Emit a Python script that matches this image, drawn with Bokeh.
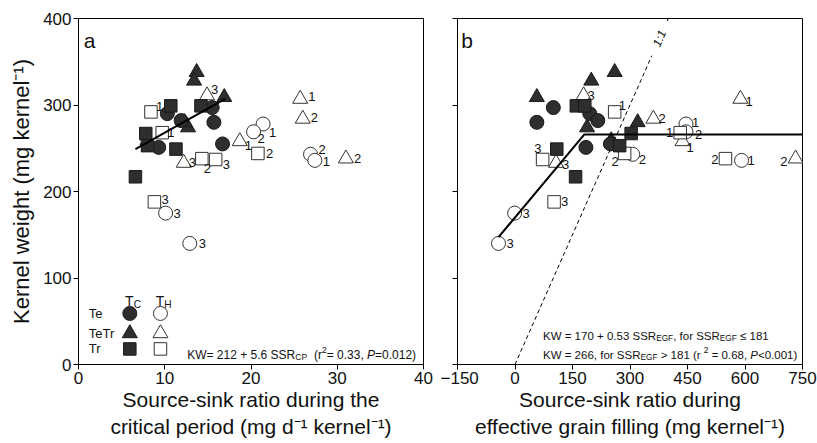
import math
from bokeh.plotting import figure
from bokeh.models import Range1d, Label, FixedTicker, CustomJSTickFormatter
from bokeh.layouts import row
from bokeh.embed import file_html
from bokeh.resources import INLINE
from bokeh.core.properties import value

FONT = "Liberation Sans"
DARK = "#2e2e2e"

# ---------------- data ----------------
# Tc (filled symbols), Th (open symbols); Te, TeTr, Tr treatments
kw_tc_te = [290, 297, 282, 280, 251, 255]
cp_tc_te = [10.3, 15.5, 11.9, 15.7, 9.3, 16.7]
egf_tc_te = [195, 100, 216, 57, 185, 249]

kw_tc_tetr = [338, 328, 309, 274, 280, 259]
cp_tc_tetr = [13.7, 13.4, 16.9, 12.7, 12.3, 8.0]
egf_tc_tetr = [260, 199, 57, 188, 320, 251]

kw_tc_tr = [299, 299, 267, 253, 249, 217]
cp_tc_tr = [10.7, 14.2, 7.8, 8.0, 11.3, 6.6]
egf_tc_tr = [160, 182, 303, 273, 109, 158]

kw_th_te = [175, 140, 278, 269, 243, 236]
cp_th_te = [10.1, 12.9, 21.4, 20.3, 26.9, 27.4]
egf_th_te = [-1, -43, 446, 446, 307, 591]
lab_th_te = ["3", "3", "1", "2", "2", "1"]

kw_th_tetr = [311, 258, 233, 307, 284, 238]
cp_th_tetr = [14.9, 18.7, 12.2, 25.7, 26.0, 31.0]
egf_th_tetr = [179, 437, 107, 588, 361, 732]
lab_th_tetr = ["3", "1", "3", "1", "2", "2"]

kw_th_tr = [292, 268, 238, 237, 188, 244]
cp_th_tr = [8.4, 9.7, 14.3, 15.9, 8.8, 20.8]
egf_th_tr = [260, 431, 549, 72, 102, 286]
lab_th_tr = ["1", "1", "2", "3", "3", "2"]

# fitted models
fit_a_int, fit_a_slope, fit_a_x = 212, 5.6, [6.6, 17.0]
fit_b_int, fit_b_slope, fit_b_break, fit_b_plateau = 170, 0.53, 181, 266
fit_b_xmin, fit_b_xmax = -43, 750

x_ticks_a = [0, 10, 20, 30, 40]
x_ticks_b = [-150, 0, 150, 300, 450, 600, 750]
y_ticks = [0, 100, 200, 300, 400]

# label offsets in pixels (dx right, dy down) for the numbered open symbols
off_a_te = [(8, 0), (9, 0), (6, 8), (4, 7), (8, -5), (8, 1)]
off_a_tetr = [(4, -6), (5, 4), (5, 0), (8, -2), (8, -1), (8, 0)]
off_a_tr = [(5, -5), (5, 0), (2, 10), (7, 5), (7, -2), (8, 0)]
off_b_te = [(8, 0), (8, 0), (6, -2), (9, 3), (6, 5), (6, 0)]
off_b_tetr = [(4, 0), (4, 6), (6, 2), (5, 3), (5, 0), (-8, 3)]
off_b_tr = [(4, -6), (-7, 0), (-7, 1), (-1, -11), (7, 0), (-6, 8)]

# ---------------- geometry ----------------
H = 442
TOP, BOT = 18, 78
FH = H - TOP - BOT
WA, LA, RA = 440, 78, 17
WB, LB, RB = 377, 17, 15
FWA = WA - LA - RA
FWB = WB - LB - RB
XA = (0, 40)
XB = (-150, 750)
YR = (0, 400)
ppx_a = FWA / (XA[1] - XA[0])
ppx_b = FWB / (XB[1] - XB[0])
ppy = FH / (YR[1] - YR[0])

AW = {' ': 278, '(': 333, ')': 333, '+': 584, ',': 278, '-': 333, '.': 278, '=': 584,
      '<': 584, '>': 584, '\u2264': 549, ':': 278,
      'C': 722, 'E': 667, 'F': 611, 'G': 778, 'H': 722, 'K': 667, 'P': 667, 'R': 722, 'S': 667,
      'T': 611, 'W': 944, 'f': 278, 'o': 556, 'r': 333}


def tw(s, size):
    return sum(AW.get(c, 556) for c in s) * size / 1000.0


def rich(p, x, y, pieces, size, color="#111111"):
    off = 0.0
    for txt, kind in pieces:
        s = size
        dy = 0.0
        style = "normal"
        if kind == "sub":
            s = size * 0.72
            dy = -0.22 * size
        elif kind == "sup":
            s = size * 0.72
            dy = 0.42 * size
        elif kind == "i":
            style = "italic"
        core = txt.strip()
        lead = len(txt) - len(txt.lstrip())
        trail = len(txt) - len(txt.rstrip())
        off += lead * AW[' '] * s / 1000.0
        p.add_layout(Label(x=x, y=y + dy / ppy, x_offset=off, text=core,
                           text_font=FONT, text_font_size=f"{s:.1f}px",
                           text_font_style=style, text_baseline="alphabetic",
                           text_align="left", text_color=color))
        off += tw(core, s) + trail * AW[' '] * s / 1000.0


def make_fig(xr, width, left, right, xticks, xlabel, ylabel):
    p = figure(width=width, height=H, x_range=Range1d(*xr), y_range=Range1d(*YR),
               output_backend="svg", toolbar_location=None,
               min_border_left=left, min_border_right=right,
               min_border_top=TOP, min_border_bottom=BOT)
    p.grid.visible = False
    p.outline_line_color = "black"
    p.outline_line_width = 1
    p.background_fill_color = "white"
    p.border_fill_color = "white"
    for ax in (p.xaxis, p.yaxis):
        ax.axis_line_color = "black"
        ax.major_tick_line_color = "black"
        ax.minor_tick_line_color = None
        ax.major_tick_out = 5
        ax.major_tick_in = 0
        ax.major_label_text_font = FONT
        ax.major_label_text_font_size = "17px"
        ax.major_label_text_color = "#111111"
        ax.major_label_standoff = 2
        ax.axis_label_text_font = FONT
        ax.axis_label_text_font_style = "normal"
        ax.axis_label_text_color = "#111111"
    p.xaxis.axis_label_text_font_size = "21px"
    p.xaxis.axis_label_standoff = 1
    p.yaxis.axis_label_text_font_size = "22px"
    p.yaxis.axis_label_standoff = 6
    p.xaxis.ticker = FixedTicker(ticks=xticks)
    p.yaxis.ticker = FixedTicker(ticks=y_ticks)
    p.xaxis.axis_label = xlabel
    if ylabel:
        p.yaxis.axis_label = ylabel
    else:
        p.yaxis.formatter = CustomJSTickFormatter(code="return ''")
    return p


def draw_groups(p, xs, ppx, offs):
    (x_te, x_tetr, x_tr, xh_te, xh_tetr, xh_tr) = xs
    # open (Th) symbols
    p.scatter(xh_te, kw_th_te, marker="circle", size=14, fill_color="white", line_color="#333333", line_width=1)
    p.scatter(xh_tetr, kw_th_tetr, marker="triangle", size=15, fill_color="white", line_color="#333333", line_width=1)
    p.scatter(xh_tr, kw_th_tr, marker="square", size=12.5, fill_color="white", line_color="#333333", line_width=1)
    # filled (Tc) symbols
    p.scatter(x_tetr, kw_tc_tetr, marker="triangle", size=15, fill_color=DARK, line_color="#1a1a1a", line_width=1)
    p.scatter(x_te, kw_tc_te, marker="circle", size=14, fill_color=DARK, line_color="#1a1a1a", line_width=1)
    p.scatter(x_tr, kw_tc_tr, marker="square", size=12.5, fill_color=DARK, line_color="#1a1a1a", line_width=1)
    # numbered labels
    lx_l, ly_l, lt_l, lx_r, ly_r, lt_r = [], [], [], [], [], []
    for xv, yv, labs, off in ((xh_te, kw_th_te, lab_th_te, offs[0]),
                              (xh_tetr, kw_th_tetr, lab_th_tetr, offs[1]),
                              (xh_tr, kw_th_tr, lab_th_tr, offs[2])):
        for xi, yi, li, (dx, dy) in zip(xv, yv, labs, off):
            if dx >= 0:
                lx_l.append(xi + dx / ppx); ly_l.append(yi - dy / ppy); lt_l.append(li)
            else:
                lx_r.append(xi + dx / ppx); ly_r.append(yi - dy / ppy); lt_r.append(li)
    p.text(lx_l, ly_l, text=lt_l, text_font=value(FONT), text_font_size="13px",
           text_baseline="middle", text_align="left", text_color="#111111")
    if lx_r:
        p.text(lx_r, ly_r, text=lt_r, text_font=value(FONT), text_font_size="13px",
               text_baseline="middle", text_align="right", text_color="#111111")


# ---------------- panel a ----------------
pa = make_fig(XA, WA, LA, RA, x_ticks_a,
              "Source-sink ratio during the\ncritical period (mg d\u207b\u00b9 kernel\u207b\u00b9)",
              "Kernel weight (mg kernel\u207b\u00b9)")
draw_groups(pa, (cp_tc_te, cp_tc_tetr, cp_tc_tr, cp_th_te, cp_th_tetr, cp_th_tr), ppx_a,
            (off_a_te, off_a_tetr, off_a_tr))
pa.line(fit_a_x, [fit_a_int + fit_a_slope * v for v in fit_a_x], line_color="black", line_width=2)

pa.add_layout(Label(x=0.6, y=374, text="a", text_font=FONT, text_font_size="21px",
                    text_baseline="middle", text_color="#111111"))

# legend (drawn inside panel a)
leg_x = [5.95, 9.5]
leg_y = [59, 36, 18]
pa.scatter([leg_x[0]], [leg_y[0]], marker="circle", size=14, fill_color=DARK, line_color="#1a1a1a")
pa.scatter([leg_x[1]], [leg_y[0]], marker="circle", size=14, fill_color="white", line_color="#333333")
pa.scatter([leg_x[0]], [leg_y[1]], marker="triangle", size=15, fill_color=DARK, line_color="#1a1a1a")
pa.scatter([leg_x[1]], [leg_y[1]], marker="triangle", size=15, fill_color="white", line_color="#333333")
pa.scatter([leg_x[0]], [leg_y[2]], marker="square", size=12.5, fill_color=DARK, line_color="#1a1a1a")
pa.scatter([leg_x[1]], [leg_y[2]], marker="square", size=12.5, fill_color="white", line_color="#333333")
for txt, yy in (("Te", leg_y[0]), ("TeTr", leg_y[1]), ("Tr", leg_y[2])):
    pa.add_layout(Label(x=1.2, y=yy, text=txt, text_font=FONT, text_font_size="13px",
                        text_baseline="middle", text_color="#111111"))
rich(pa, 5.4, 73, [("T", "n"), ("C", "sub")], 14)
rich(pa, 8.95, 73, [("T", "n"), ("H", "sub")], 14)

rich(pa, 12.6, 11.5, [("KW= 212 + 5.6 SSR", "n"), ("CP", "sub"), ("  (r", "n"), ("2", "sup"),
                      ("= 0.33, ", "n"), ("P", "i"), ("=0.012)", "n")], 12)

# ---------------- panel b ----------------
pb = make_fig(XB, WB, LB, RB, x_ticks_b,
              "Source-sink ratio during\neffective grain filling (mg kernel\u207b\u00b9)", None)

# 1:1 line (interrupted by its label)
pb.line([0, 357], [0, 357], line_color="black", line_width=1, line_dash="4 3")
pb.line([397, 400], [397, 400], line_color="black", line_width=1, line_dash="4 3")
ang = math.atan2(ppy, ppx_b)
pb.add_layout(Label(x=377, y=377, text="1:1", text_font=FONT, text_font_size="12px",
                    text_font_style="italic", text_align="center", text_baseline="middle",
                    angle=ang, text_color="#111111"))

draw_groups(pb, (egf_tc_te, egf_tc_tetr, egf_tc_tr, egf_th_te, egf_th_tetr, egf_th_tr), ppx_b,
            (off_b_te, off_b_tetr, off_b_tr))
bx = [fit_b_xmin, fit_b_break, fit_b_xmax]
by = [fit_b_int + fit_b_slope * fit_b_xmin, fit_b_int + fit_b_slope * fit_b_break, fit_b_plateau]
pb.line(bx, by, line_color="black", line_width=2)

pb.add_layout(Label(x=-140, y=374, text="b", text_font=FONT, text_font_size="21px",
                    text_baseline="middle", text_color="#111111"))

rich(pb, 73, 33.5, [("KW = 170 + 0.53 SSR", "n"), ("EGF", "sub"), (", for SSR", "n"),
                    ("EGF", "sub"), (" \u2264 181", "n")], 11.5)
rich(pb, 73, 11.5, [("KW = 266, for SSR", "n"), ("EGF", "sub"), (" > 181  (r", "n"), ("2", "sup"),
                    (" = 0.68, ", "n"), ("P", "i"), ("<0.001)", "n")], 11.5)

layout = row(pa, pb)
open("out.html", "w").write(file_html(layout, INLINE))
